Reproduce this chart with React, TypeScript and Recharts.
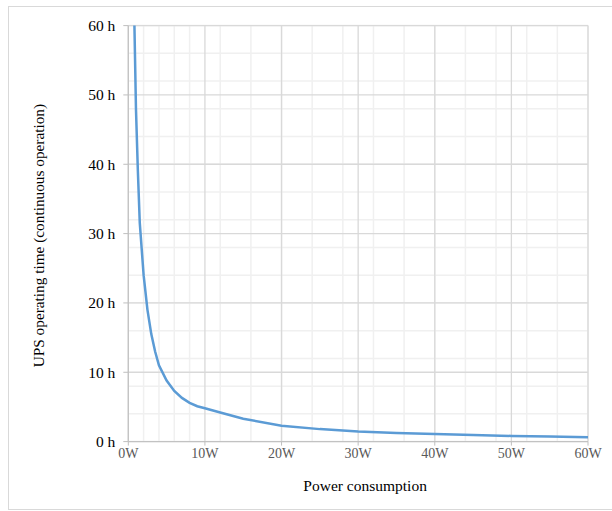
import { LineChart, Line, XAxis, YAxis, CartesianGrid, Label } from "recharts";

// power draw (W) and matching runtime (h)
const watts = [0.8, 1, 1.25, 1.5, 2, 2.5, 3, 3.5, 4, 5, 6, 7, 8, 9, 10, 12, 15, 20, 25, 30, 35, 40, 45, 50, 55, 60];
const hours = [60, 48, 39, 31.5, 24, 19, 15.5, 13, 11, 8.8, 7.3, 6.3, 5.6, 5.1, 4.8, 4.2, 3.3, 2.3, 1.8, 1.45, 1.25, 1.1, 0.95, 0.82, 0.72, 0.63];

const xTicks = [0, 10, 20, 30, 40, 50, 60];
const yTicks = [0, 10, 20, 30, 40, 50, 60];
const xMinorTicks = [0, 2, 4, 6, 8, 10, 12, 14, 16, 18, 20, 22, 24, 26, 28, 30, 32, 34, 36, 38, 40, 42, 44, 46, 48, 50, 52, 54, 56, 58, 60];
const yMinorTicks = [0, 2, 4, 6, 8, 10, 12, 14, 16, 18, 20, 22, 24, 26, 28, 30, 32, 34, 36, 38, 40, 42, 44, 46, 48, 50, 52, 54, 56, 58, 60];

const data = watts.map((w, i) => ({ w, h: hours[i] }));

const FONT = "Liberation Serif";

export default function App() {
  return (
    <div
      style={{
        position: "absolute",
        left: 8,
        top: 6,
        width: 603,
        height: 502,
        border: "1px solid #d9d9d9",
        borderRight: "none",
        background: "#fff",
        fontFamily: FONT,
      }}
    >
      <LineChart
        width={595}
        height={500}
        data={data}
        margin={{ top: 18.6, right: 16, left: 0, bottom: 0 }}
        style={{ fontFamily: FONT }}
      >
        {/* minor grid: vertical via a hidden axis, horizontal via values */}
        <XAxis xAxisId="minor" dataKey="w" type="number" domain={[0, 60]} ticks={xMinorTicks} hide />
        <CartesianGrid xAxisId="minor" horizontal={false} stroke="#f0f0f0" strokeWidth={1.5} />
        <CartesianGrid vertical={false} horizontalValues={yMinorTicks} stroke="#f0f0f0" strokeWidth={1.5} />
        <CartesianGrid stroke="#d9d9d9" strokeWidth={1.3} />
        <XAxis
          dataKey="w"
          type="number"
          domain={[0, 60]}
          ticks={xTicks}
          tickFormatter={(v) => `${v}W`}
          height={65.4}
          tickSize={4}
          tickMargin={2}
          stroke="#bfbfbf"
          tick={{ fontSize: 14, fill: "#595959", fontFamily: FONT }}
        >
          <Label
            content={({ viewBox }: any) => (
              <text
                x={viewBox.x + viewBox.width / 2 + 7}
                y={viewBox.y + viewBox.height - 16}
                textAnchor="middle"
                fontSize={15.5}
                fill="#000"
                style={{ fontFamily: FONT }}
              >
                Power consumption
              </text>
            )}
          />
        </XAxis>
        <YAxis
          type="number"
          domain={[0, 60]}
          ticks={yTicks}
          tickFormatter={(v) => `${v} h`}
          width={119.3}
          tickSize={5}
          tickMargin={8}
          stroke="#bfbfbf"
          tick={{ fontSize: 15.5, fill: "#000", fontFamily: FONT }}
        >
          <Label
            content={({ viewBox }: any) => {
              const cx = 29.3;
              const cy = viewBox.y + viewBox.height / 2 + 2;
              return (
                <text
                  x={cx}
                  y={cy}
                  transform={`rotate(-90 ${cx} ${cy})`}
                  textAnchor="middle"
                  dominantBaseline="central"
                  fontSize={15.3}
                  fill="#000"
                  style={{ fontFamily: FONT }}
                >
                  UPS operating time (continuous operation)
                </text>
              );
            }}
          />
        </YAxis>
        <Line
          type="linear"
          dataKey="h"
          stroke="#5b9bd5"
          strokeWidth={2.5}
          dot={false}
          isAnimationActive={false}
        />
      </LineChart>
    </div>
  );
}
